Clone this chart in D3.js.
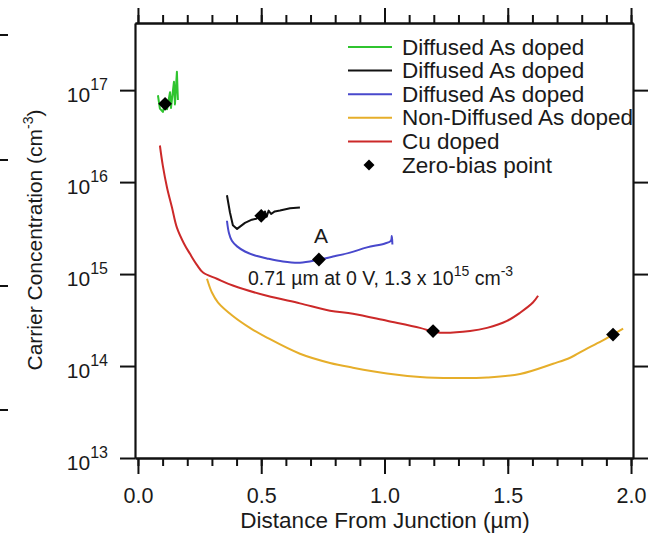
<!DOCTYPE html>
<html>
<head>
<meta charset="utf-8">
<script src="https://cdn.jsdelivr.net/npm/d3@7"></script>
<style>
  body { margin: 0; background: #fff; }
  svg { display: block; }
  text { font-family: "Liberation Sans", Arial, sans-serif; fill: #1a1a1a; }
</style>
</head>
<body>
<div id="chart"></div>
<script>
// data: [distance (um), carrier concentration (cm^-3)]
const greenData = [[0.081, 8.8e16], [0.089, 6.3e16], [0.101, 5.8e16], [0.110, 7.2e16], [0.114, 7.8e16],
  [0.118, 6.2e16], [0.130, 9.5e16], [0.134, 6.4e16], [0.146, 1.23e17], [0.150, 7.0e16],
  [0.158, 1.58e17], [0.162, 7.8e16]];
const blackData = [[0.361, 7.2e15], [0.373, 4.7e15], [0.385, 3.4e15], [0.402, 3.1e15], [0.434, 3.6e15],
  [0.462, 3.9e15], [0.480, 4.0e15], [0.495, 4.3e15], [0.505, 4.1e15], [0.515, 4.8e15], [0.522, 4.2e15],
  [0.530, 4.9e15], [0.540, 4.5e15], [0.555, 4.8e15], [0.576, 4.9e15], [0.617, 5.2e15], [0.657, 5.3e15]];
const blueData = [[0.361, 3.8e15], [0.369, 2.8e15], [0.381, 2.3e15], [0.402, 2.0e15], [0.434, 1.76e15],
  [0.475, 1.59e15], [0.523, 1.48e15], [0.588, 1.37e15], [0.657, 1.33e15], [0.734, 1.44e15],
  [0.791, 1.55e15], [0.860, 1.71e15], [0.929, 1.95e15], [1.002, 2.15e15], [1.026, 2.3e15],
  [1.030, 2.6e15], [1.032, 2.1e15]];
const orangeData = [[0.280, 8.9e14], [0.300, 6.3e14], [0.325, 4.9e14], [0.385, 3.5e14], [0.454, 2.6e14],
  [0.523, 2.04e14], [0.657, 1.36e14], [0.779, 1.08e14], [0.872, 9.6e13], [1.010, 8.3e13],
  [1.144, 7.6e13], [1.278, 7.4e13], [1.416, 7.5e13], [1.550, 8.2e13], [1.684, 1.06e14],
  [1.753, 1.23e14], [1.821, 1.55e14], [1.886, 1.9e14], [1.927, 2.2e14], [1.968, 2.55e14]];
const redData = [[0.089, 2.5e16], [0.101, 1.5e16], [0.118, 8.7e15], [0.138, 5.3e15], [0.158, 3.2e15],
  [0.187, 2.14e15], [0.211, 1.66e15], [0.239, 1.26e15], [0.264, 1.04e15], [0.320, 8.9e14],
  [0.385, 7.5e14], [0.523, 5.8e14], [0.657, 4.8e14], [0.779, 4.0e14], [0.872, 3.7e14],
  [1.010, 3.1e14], [1.144, 2.6e14], [1.197, 2.36e14], [1.225, 2.3e14], [1.347, 2.4e14],
  [1.416, 2.6e14], [1.497, 3.1e14], [1.550, 3.8e14], [1.602, 4.9e14], [1.623, 5.8e14]];
const zeroBias = [[0.110, 7.1e16], [0.500, 4.3e15], [0.734, 1.44e15], [1.197, 2.4e14], [1.927, 2.2e14]];

const seriesNames = ['Diffused As doped', 'Diffused As doped', 'Diffused As doped',
  'Non-Diffused As doped', 'Cu doped'];
const seriesColors = ['#2fc42f', '#111111', '#4848cc', '#e6ae2a', '#cc2929'];
const seriesData = [greenData, blackData, blueData, orangeData, redData];
const seriesSmooth = [false, false, true, true, true];
const markerLabel = 'Zero-bias point';

const xMajorTicks = [0, 0.5, 1.0, 1.5, 2.0];
const xMinorTicks = d3.range(0, 21).map(i => i / 10);
const yTicks = [1e13, 1e14, 1e15, 1e16, 1e17];
const yExponents = ['13', '14', '15', '16', '17'];

const width = 648, height = 536;
const axisColor = '#111';

const x = d3.scaleLinear().domain([-0.012, 2.008]).range([135, 633]);
const y = d3.scaleLog().domain([1e13, 5.37e17]).range([458, 23]);

const svg = d3.select('#chart').append('svg')
  .attr('width', width)
  .attr('height', height);

function styleAxis(g) {
  g.selectAll('path, line').attr('stroke', axisColor).attr('stroke-width', 2);
  g.select('.domain').attr('stroke-width', 2.2);
}

// bottom axis: minor then major with labels
svg.append('g').attr('transform', 'translate(0,458)')
  .call(d3.axisBottom(x).tickValues(xMinorTicks).tickSize(8).tickSizeOuter(0).tickFormat(''))
  .call(styleAxis);
const bottomMajor = svg.append('g').attr('transform', 'translate(0,458)')
  .call(d3.axisBottom(x).tickValues(xMajorTicks).tickSize(16).tickSizeOuter(0)
    .tickPadding(14).tickFormat(d3.format('.1f')))
  .call(styleAxis);
bottomMajor.selectAll('text').attr('font-size', 21.5).attr('fill', '#1a1a1a')
  .attr('font-family', '"Liberation Sans", Arial, sans-serif');

// top axis
svg.append('g').attr('transform', 'translate(0,23)')
  .call(d3.axisTop(x).tickValues(xMinorTicks).tickSize(8).tickSizeOuter(0).tickFormat(''))
  .call(styleAxis);
svg.append('g').attr('transform', 'translate(0,23)')
  .call(d3.axisTop(x).tickValues(xMajorTicks).tickSize(15).tickSizeOuter(0).tickFormat(''))
  .call(styleAxis);

// left axis with 10^n labels
const leftAxis = svg.append('g').attr('transform', 'translate(135,0)')
  .call(d3.axisLeft(y).tickValues(yTicks).tickSize(15).tickSizeOuter(0).tickFormat(''))
  .call(styleAxis);
leftAxis.selectAll('.tick').each(function (d, i) {
  const t = d3.select(this).append('text')
    .attr('x', -27)
    .attr('y', 11)
    .attr('text-anchor', 'end')
    .attr('fill', '#1a1a1a')
    .attr('font-size', 21);
  t.append('tspan').text('10');
  t.append('tspan').attr('dy', -12).attr('font-size', 16).text(yExponents[i]);
});

// right axis
svg.append('g').attr('transform', 'translate(633,0)')
  .call(d3.axisRight(y).tickValues(yTicks).tickSize(16).tickSizeOuter(0).tickFormat(''))
  .call(styleAxis);

// axis titles
const yTitle = svg.append('text')
  .attr('transform', 'translate(42,240) rotate(-90)')
  .attr('text-anchor', 'middle')
  .attr('font-size', 21);
yTitle.append('tspan').text('Carrier Concentration (cm');
yTitle.append('tspan').attr('dy', -9).attr('font-size', 14).text('-3');
yTitle.append('tspan').attr('dy', 9).text(')');

svg.append('text')
  .attr('x', 385).attr('y', 528)
  .attr('text-anchor', 'middle')
  .attr('font-size', 22.5)
  .text('Distance From Junction (\u00b5m)');

// data lines
const line = d3.line().x(d => x(d[0])).y(d => y(d[1]));
seriesData.forEach((data, i) => {
  line.curve(seriesSmooth[i] ? d3.curveCatmullRom.alpha(0.5) : d3.curveLinear);
  svg.append('path')
    .datum(data)
    .attr('fill', 'none')
    .attr('stroke', seriesColors[i])
    .attr('stroke-width', 2)
    .attr('stroke-linejoin', 'round')
    .attr('d', line);
});

// zero-bias diamonds
const diamond = d3.symbol().type(d3.symbolSquare).size(95);
svg.selectAll('.zero-bias')
  .data(zeroBias)
  .join('path')
  .attr('class', 'zero-bias')
  .attr('d', diamond)
  .attr('fill', '#000')
  .attr('transform', d => `translate(${x(d[0])},${y(d[1])}) rotate(45)`);

// annotations
svg.append('text')
  .attr('x', x(0.734) + 2).attr('y', 243)
  .attr('text-anchor', 'middle')
  .attr('font-size', 21)
  .text('A');
const note = svg.append('text')
  .attr('x', 248).attr('y', 285)
  .attr('font-size', 19.5);
note.append('tspan').text('0.71 \u00b5m at 0 V, 1.3 x 10');
note.append('tspan').attr('dy', -9).attr('font-size', 14).text('15');
note.append('tspan').attr('dy', 9).text(' cm');
note.append('tspan').attr('dy', -9).attr('font-size', 14).text('-3');

// legend
const legend = svg.append('g').attr('transform', 'translate(348,47)');
const rowGap = 23.6;
seriesNames.forEach((name, i) => {
  const row = legend.append('g').attr('transform', `translate(0,${i * rowGap})`);
  row.append('line')
    .attr('x1', 0).attr('x2', 44)
    .attr('stroke', seriesColors[i])
    .attr('stroke-width', 2);
  row.append('text')
    .attr('x', 54).attr('y', 7.5)
    .attr('font-size', 22.5)
    .text(name);
});
const markerRow = legend.append('g').attr('transform', `translate(0,${seriesNames.length * rowGap})`);
markerRow.append('path')
  .attr('d', d3.symbol().type(d3.symbolSquare).size(60))
  .attr('fill', '#000')
  .attr('transform', 'translate(21,0) rotate(45)');
markerRow.append('text')
  .attr('x', 54).attr('y', 7.5)
  .attr('font-size', 22.5)
  .text(markerLabel);

// edge marks left over from the neighbouring panel
[35, 160, 286, 410].forEach(yy => {
  svg.append('line')
    .attr('x1', 0).attr('x2', 8)
    .attr('y1', yy).attr('y2', yy)
    .attr('stroke', axisColor)
    .attr('stroke-width', 2);
});
</script>
</body>
</html>
